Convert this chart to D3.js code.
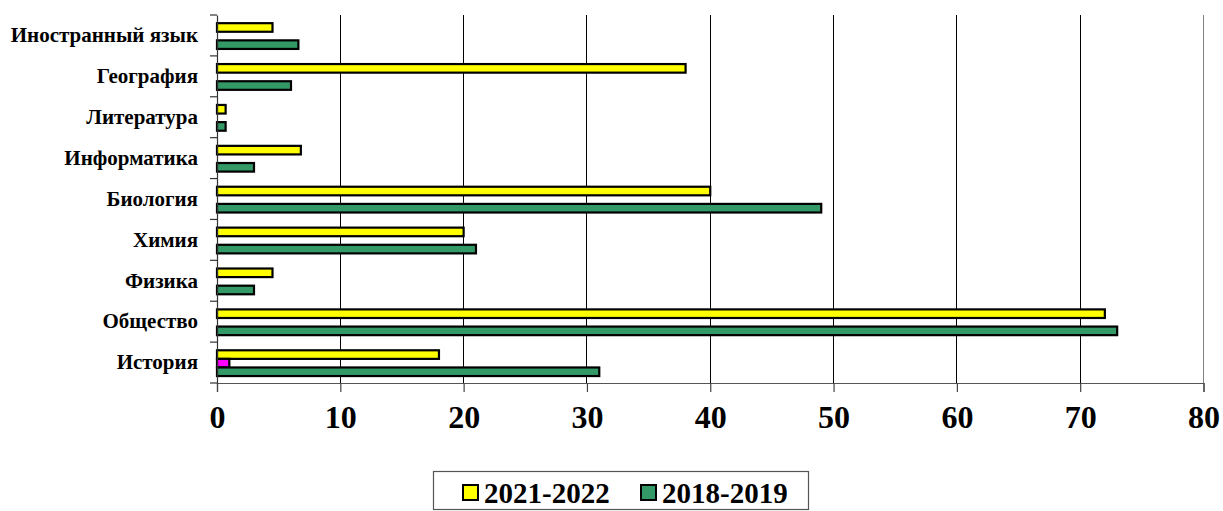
<!DOCTYPE html>
<html>
<head>
<meta charset="utf-8">
<script src="https://cdn.jsdelivr.net/npm/d3@7"></script>
<style>
  html, body { margin: 0; padding: 0; background: #fff; }
  svg { display: block; font-family: "Liberation Serif", "Times New Roman", serif; }
</style>
</head>
<body>
<svg id="chart" width="1223" height="511"></svg>
<script>
// Categories listed bottom to top as in the original chart
const categories = ["История", "Общество", "Физика", "Химия", "Биология", "Информатика", "Литература", "География", "Иностранный язык"];
const series2021 = [18, 72, 4.5, 20, 40, 6.8, 0.7, 38, 4.5];
const seriesExtra = [1, 0, 0, 0, 0, 0, 0, 0, 0];
const series2018 = [31, 73, 3, 21, 49, 3, 0.7, 6, 6.6];
const seriesNames = ["2021-2022", "extra", "2018-2019"];
const seriesColors = ["#FFFF00", "#FF00FF", "#339966"];
const legendNames = ["2021-2022", "2018-2019"];
const legendColors = ["#FFFF00", "#339966"];
const xTicks = [0, 10, 20, 30, 40, 50, 60, 70, 80];

const svg = d3.select("#chart");
const mLeft = 217, mRight = 1203.5, mTop = 15, mBottom = 383;

const x = d3.scaleLinear().domain([0, 80]).range([mLeft, mRight]);
const y = d3.scaleBand().domain(categories.slice().reverse()).range([mTop, mBottom]).padding(0);
const bw = y.bandwidth();
const y1 = d3.scaleBand().domain(seriesNames).range([bw * 0.2, bw * 0.83]).padding(0);

const data = categories.map((c, i) => ({
  cat: c,
  vals: [series2021[i], seriesExtra[i], series2018[i]]
}));

// gridlines
svg.append("g").selectAll("line").data(xTicks.filter(t => t > 0 && t < 80)).join("line")
  .attr("x1", d => x(d)).attr("x2", d => x(d))
  .attr("y1", mTop).attr("y2", mBottom)
  .attr("stroke", "#000").attr("stroke-width", 1).attr("shape-rendering", "crispEdges");
// right border
svg.append("line").attr("x1", x(80)).attr("x2", x(80)).attr("y1", mTop).attr("y2", mBottom)
  .attr("stroke", "#808080").attr("stroke-width", 1).attr("shape-rendering", "crispEdges");

// bars
const groups = svg.append("g").selectAll("g").data(data).join("g")
  .attr("transform", d => `translate(0,${y(d.cat)})`);
groups.selectAll("rect").data(d => d.vals.map((v, j) => ({ v, s: seriesNames[j], c: seriesColors[j] })).filter(o => o.v > 0))
  .join("rect")
  .attr("x", x(0))
  .attr("y", d => y1(d.s))
  .attr("width", d => x(d.v) - x(0))
  .attr("height", y1.bandwidth())
  .attr("fill", d => d.c)
  .attr("stroke", "#000")
  .attr("stroke-width", 2.2);

// x axis
const xAxis = d3.axisBottom(x).tickValues(xTicks).tickSize(9).tickPadding(13).tickFormat(d3.format("d"));
const gx = svg.append("g").attr("transform", `translate(0,${mBottom})`).call(xAxis);
gx.select(".domain").attr("stroke", "#555").attr("stroke-width", 1.2);
gx.selectAll(".tick line").attr("stroke", "#444").attr("stroke-width", 1.2);
gx.selectAll(".tick text").attr("font-family", "Liberation Serif, Times New Roman, serif")
  .attr("font-size", 32).attr("font-weight", "bold").attr("fill", "#000");

// y axis
const yAxis = d3.axisLeft(y).tickSize(0).tickPadding(19);
const gy = svg.append("g").attr("transform", `translate(${mLeft},0)`).call(yAxis);
gy.select(".domain").attr("stroke", "#333").attr("stroke-width", 1.2);
gy.selectAll(".tick text").attr("font-family", "Liberation Serif, Times New Roman, serif")
  .attr("font-size", 21).attr("font-weight", "bold").attr("fill", "#000");
// category boundary ticks
const bounds = y.domain().map(c => y(c)).concat([mBottom]);
svg.append("g").selectAll("line").data(bounds).join("line")
  .attr("x1", mLeft - 7).attr("x2", mLeft).attr("y1", d => d).attr("y2", d => d)
  .attr("stroke", "#333").attr("stroke-width", 1.2);

// legend
const lg = svg.append("g");
lg.append("rect").attr("x", 433.5).attr("y", 471.5).attr("width", 375).attr("height", 38)
  .attr("fill", "#fff").attr("stroke", "#555").attr("stroke-width", 1.2);
const legX = [463, 641];
legendNames.forEach((n, i) => {
  lg.append("rect").attr("x", legX[i]).attr("y", 485).attr("width", 15).attr("height", 15)
    .attr("fill", legendColors[i]).attr("stroke", "#000").attr("stroke-width", 2);
  lg.append("text").attr("x", legX[i] + 21).attr("y", 503)
    .attr("font-size", 29).attr("font-weight", "bold").attr("fill", "#000").text(n);
});
</script>
</body>
</html>
